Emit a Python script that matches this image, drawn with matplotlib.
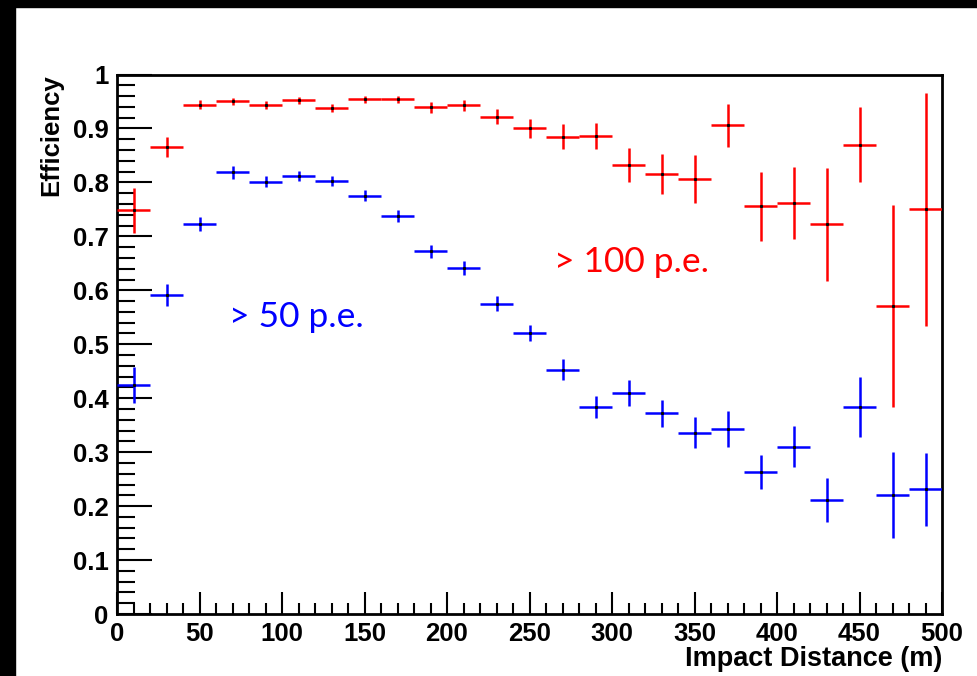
import numpy as np
import matplotlib
matplotlib.use("Agg")
import matplotlib.pyplot as plt
from matplotlib.patches import Rectangle
from matplotlib.ticker import MultipleLocator

# impact distance bins (centres, m) and half width
dist = np.arange(10, 500, 20)
half_bin = 10

# efficiency for > 100 p.e. threshold
eff_100 = [0.748, 0.866, 0.944, 0.950, 0.943, 0.952, 0.938, 0.954, 0.954, 0.939,
           0.943, 0.922, 0.900, 0.885, 0.886, 0.832, 0.816, 0.806, 0.906, 0.756,
           0.762, 0.722, 0.870, 0.571, 0.750]
err_100 = [0.041, 0.018, 0.008, 0.007, 0.007, 0.007, 0.007, 0.007, 0.007, 0.010,
           0.010, 0.0145, 0.017, 0.0225, 0.025, 0.032, 0.037, 0.045, 0.040, 0.064,
           0.066, 0.105, 0.070, 0.187, 0.216]

# efficiency for > 50 p.e. threshold
eff_50 = [0.425, 0.591, 0.723, 0.819, 0.801, 0.812, 0.802, 0.7755, 0.737, 0.672,
          0.642, 0.575, 0.521, 0.453, 0.384, 0.410, 0.372, 0.336, 0.343, 0.263,
          0.310, 0.2115, 0.384, 0.221, 0.231]
err_50 = [0.033, 0.020, 0.013, 0.012, 0.010, 0.009, 0.009, 0.010, 0.011, 0.012,
          0.013, 0.014, 0.015, 0.020, 0.020, 0.024, 0.025, 0.029, 0.034, 0.031,
          0.038, 0.041, 0.055, 0.080, 0.067]

fig = plt.figure(figsize=(9.78, 6.76), dpi=100)
fig.patch.set_facecolor("white")
# black slide border (top band and left strip)
fig.patches.append(Rectangle((0, 1 - 7 / 676), 1, 7 / 676, transform=fig.transFigure,
                             color="black", zorder=0))
fig.patches.append(Rectangle((0, 0), 15 / 978, 1, transform=fig.transFigure,
                             color="black", zorder=0))

ax = fig.add_axes([117 / 978, 62 / 676, 825 / 978, 539.5 / 676])

for eff, err, col in [(eff_100, err_100, "#ff0000"), (eff_50, err_50, "#0000ff")]:
    ax.errorbar(dist, eff, xerr=half_bin, yerr=err, fmt="none", ecolor=col,
                elinewidth=1.8, capsize=0, zorder=3)
    ax.plot(dist, eff, "s", color="black", markersize=1.2, zorder=4)

ax.set_xlim(0, 500)
ax.set_ylim(0, 1)
ax.xaxis.set_minor_locator(MultipleLocator(10))
ax.yaxis.set_minor_locator(MultipleLocator(0.02))

tick_font = {"family": "Liberation Sans", "weight": "bold", "size": 18.5}
ax.set_xticks(np.arange(0, 501, 50))
ax.set_xticklabels([str(v) for v in range(0, 501, 50)], fontdict=tick_font)
ax.set_yticks(np.round(np.arange(0, 1.01, 0.1), 1))
ax.set_yticklabels(["0", "0.1", "0.2", "0.3", "0.4", "0.5", "0.6", "0.7", "0.8", "0.9", "1"],
                   fontdict=tick_font)

ax.tick_params(axis="y", which="major", direction="in", length=25, width=1.5, pad=6)
ax.tick_params(axis="y", which="minor", direction="in", length=13, width=1.5)
ax.tick_params(axis="x", which="major", direction="in", length=16, width=1.5, pad=6)
ax.tick_params(axis="x", which="minor", direction="in", length=8, width=1.5)
for s in ax.spines.values():
    s.set_linewidth(2)

ax.set_xlabel("Impact Distance (m)", fontfamily="Liberation Sans", fontweight="bold",
              fontsize=19.5, loc="right", labelpad=0)
ax.set_ylabel("Efficiency", fontfamily="Liberation Sans", fontweight="bold",
              fontsize=18.5, loc="top", labelpad=7)

ax.text(312, 0.653, "> 100 p.e.", color="#ff0000", fontfamily="Lato", fontsize=25.5,
        ha="center", va="center")
ax.text(109, 0.551, "> 50 p.e.", color="#0000ff", fontfamily="Lato", fontsize=25.5,
        ha="center", va="center")

fig.savefig("out.png", dpi=100)
